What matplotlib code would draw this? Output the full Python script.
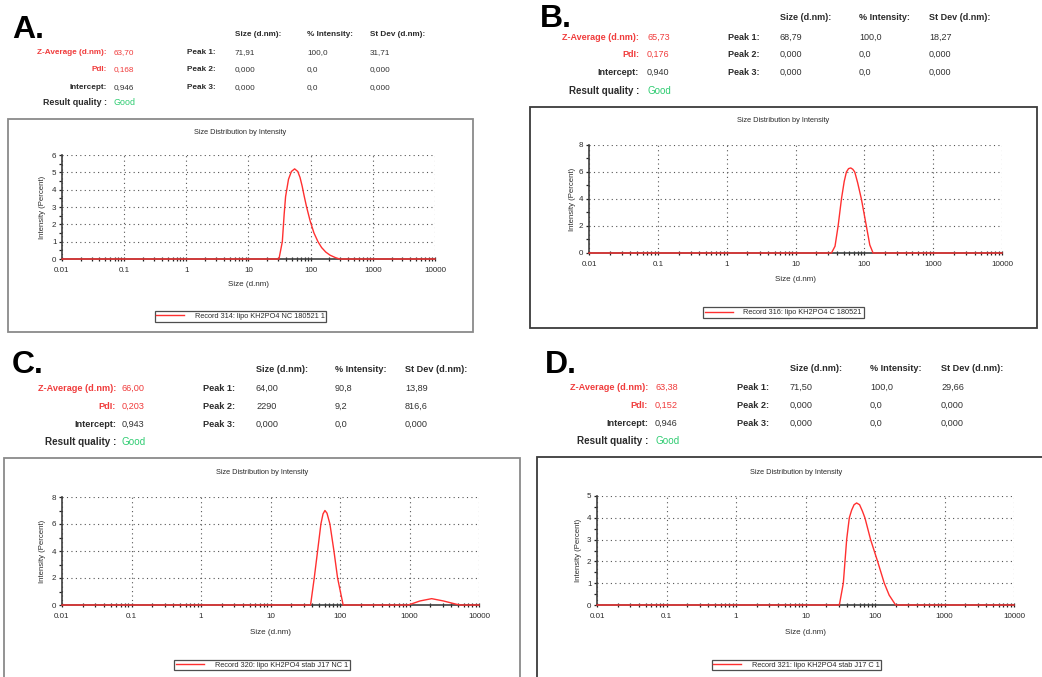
import matplotlib
matplotlib.use('Agg')
import matplotlib.pyplot as plt
from matplotlib.patches import Rectangle
from matplotlib.ticker import LogLocator, MultipleLocator, NullFormatter, FixedFormatter, FixedLocator

W, H = 1042, 677
plt.rcParams['font.family'] = ['Liberation Sans', 'DejaVu Sans']

# ---------------- data ----------------
panel_letters = ['A.', 'B.', 'C.', 'D.']
records = ['Record 314: lipo KH2PO4 NC 180521 1',
           'Record 316: lipo KH2PO4 C 180521',
           'Record 320: lipo KH2PO4 stab J17 NC 1',
           'Record 321: lipo KH2PO4 stab J17 C 1']

size_A = [0.01, 30.9, 35.0, 37.5, 39.5, 44.0, 49.0, 55.2, 62.0, 67.5, 73.0, 79.0, 86.0, 98.0, 113.0, 131.0, 150.0, 175.0, 205.0, 250.0, 292.0, 10000]
int_A = [0, 0, 1.0, 2.6, 3.6, 4.6, 5.05, 5.2, 5.05, 4.7, 4.2, 3.6, 3.0, 2.2, 1.5, 1.0, 0.66, 0.4, 0.22, 0.08, 0, 0]

size_B = [0.01, 33.3, 37.5, 41.6, 46.5, 51.0, 54.9, 59.0, 63.5, 68.0, 72.6, 80.0, 90.6, 107.0, 120.0, 134.0, 10000]
int_B = [0, 0, 0.5, 2.0, 4.0, 5.3, 6.0, 6.25, 6.3, 6.2, 6.0, 5.2, 4.0, 2.0, 0.6, 0, 0]

size_C = [0.01, 37.7, 42.6, 47.6, 53.1, 57.0, 60.7, 65.0, 71.6, 81.8, 92.3, 111.0, 962, 1416, 2084, 3070, 4780, 5340, 10000]
int_C = [0, 0, 2.0, 4.0, 6.0, 6.75, 7.0, 6.8, 6.0, 4.0, 2.0, 0, 0, 0.3, 0.47, 0.3, 0.05, 0, 0]

size_D = [0.01, 30.7, 35.0, 37.0, 39.1, 42.7, 46.1, 50.0, 54.4, 60.0, 66.0, 71.6, 86.4, 109.0, 136.0, 160.0, 198.0, 10000]
int_D = [0, 0, 1.0, 2.0, 3.0, 4.0, 4.35, 4.6, 4.68, 4.6, 4.3, 4.0, 3.0, 2.0, 1.0, 0.45, 0, 0]

sizes = [size_A, size_B, size_C, size_D]
intensities = [int_A, int_B, int_C, int_D]
y_max = [6, 8, 8, 5]
y_major = [1, 2, 2, 1]
x_ticks = [0.01, 0.1, 1, 10, 100, 1000, 10000]
x_tick_labels = ['0.01', '0.1', '1', '10', '100', '1000', '10000']

z_average = ['63,70', '65,73', '66,00', '63,38']
pdi = ['0,168', '0,176', '0,203', '0,152']
intercept = ['0,946', '0,940', '0,943', '0,946']
quality = ['Good', 'Good', 'Good', 'Good']
peak_size = [['71,91', '0,000', '0,000'], ['68,79', '0,000', '0,000'],
             ['64,00', '2290', '0,000'], ['71,50', '0,000', '0,000']]
peak_intensity = [['100,0', '0,0', '0,0'], ['100,0', '0,0', '0,0'],
                  ['90,8', '9,2', '0,0'], ['100,0', '0,0', '0,0']]
peak_stdev = [['31,71', '0,000', '0,000'], ['18,27', '0,000', '0,000'],
              ['13,89', '816,6', '0,000'], ['29,66', '0,000', '0,000']]

# ---------------- layout (pixels) ----------------
layout = [
    dict(letter=(12, 38), fs=5.9, head_y=33, rows=[51, 68, 86, 102], lab_r=107, val_x=114,
         peak_x=187, cols=[235, 307, 370], box=(8, 119, 473, 332), box_c='#8a8a8a',
         ax=(62, 155, 435, 259), title_y=132, ylab_x=43, xlab_y=285, leg_y=316.5),
    dict(letter=(540, 27), fs=6.5, head_y=17, rows=[37, 54, 72, 90], lab_r=639, val_x=647,
         peak_x=728, cols=[780, 859, 929], box=(530, 107, 1037, 328), box_c='#3a3a3a',
         ax=(589, 145, 1002, 253), title_y=121, ylab_x=572, xlab_y=280, leg_y=312.5),
    dict(letter=(12, 373), fs=6.6, head_y=369, rows=[388, 406, 424, 441], lab_r=116, val_x=122,
         peak_x=203, cols=[256, 335, 405], box=(4, 458, 520, 700), box_c='#8a8a8a',
         ax=(62, 497, 479, 605), title_y=472, ylab_x=43, xlab_y=632, leg_y=665),
    dict(letter=(545, 373), fs=6.6, head_y=368, rows=[387, 405, 423, 440], lab_r=648, val_x=655,
         peak_x=737, cols=[790, 870, 941], box=(537, 457, 1056, 700), box_c='#3a3a3a',
         ax=(597, 496, 1014, 605), title_y=472, ylab_x=578, xlab_y=632, leg_y=665),
]

RED = '#f03c3c'
GREEN = '#2ecc71'
DARK = '#2b2b2b'
VAL = '#333333'

fig = plt.figure(figsize=(W / 100, H / 100), dpi=100)


def fx(x):
    return x / W


def fy(y):
    return 1 - y / H


def txt(x, y, s, fontsize, **kw):
    # y is the vertical centre of capital letters; place on baseline
    base = y + 0.5 * fontsize
    fig.text(fx(x), fy(base), s, fontsize=fontsize, va='baseline', **kw)


for i, L in enumerate(layout):
    fs = L['fs']
    # panel letter
    fig.text(fx(L['letter'][0]), fy(L['letter'][1]), panel_letters[i], fontsize=23,
             fontweight='bold', color='black', va='baseline')
    # header
    for cx, h in zip(L['cols'], ['Size (d.nm):', '% Intensity:', 'St Dev (d.nm):']):
        txt(cx, L['head_y'], h, fs, fontweight='bold', color=DARK)
    r = L['rows']
    # left block
    txt(L['lab_r'], r[0], 'Z-Average (d.nm):', fs, fontweight='bold', color=RED, ha='right')
    txt(L['lab_r'], r[1], 'PdI:', fs, fontweight='bold', color=RED, ha='right')
    txt(L['lab_r'], r[2], 'Intercept:', fs, fontweight='bold', color=DARK, ha='right')
    txt(L['lab_r'], r[3], 'Result quality :', fs * 1.08, fontweight='bold', color=DARK, ha='right')
    txt(L['val_x'], r[0], z_average[i], fs, color=RED)
    txt(L['val_x'], r[1], pdi[i], fs, color=RED)
    txt(L['val_x'], r[2], intercept[i], fs, color=VAL)
    txt(L['val_x'], r[3], quality[i], fs * 1.08, color=GREEN)
    # peaks
    for k in range(3):
        txt(L['peak_x'], r[k], 'Peak %d:' % (k + 1), fs, fontweight='bold', color=DARK)
        txt(L['cols'][0], r[k], peak_size[i][k], fs, color=VAL)
        txt(L['cols'][1], r[k], peak_intensity[i][k], fs, color=VAL)
        txt(L['cols'][2], r[k], peak_stdev[i][k], fs, color=VAL)

    # frame box
    bx0, by0, bx1, by1 = L['box']
    fig.patches.append(Rectangle((fx(bx0), fy(by1)), (bx1 - bx0) / W, (by1 - by0) / H,
                                 transform=fig.transFigure, fill=False,
                                 edgecolor=L['box_c'], linewidth=1.3, zorder=0))
    box_cx = (bx0 + bx1) / 2
    fig.text(fx(box_cx), fy(L['title_y']), 'Size Distribution by Intensity', fontsize=5.3,
             color=DARK, ha='center', va='center')

    # axes
    l, t, rr, b = L['ax']
    ax = fig.add_axes([fx(l), fy(b), (rr - l) / W, (b - t) / H])
    ax.set_xscale('log')
    ax.set_xlim(0.01, 10000)
    ax.set_ylim(0, y_max[i])
    ax.plot(sizes[i], intensities[i], color='#ff3030', linewidth=1.0, clip_on=False, zorder=5,
            label=records[i])
    ax.xaxis.set_major_locator(FixedLocator(x_ticks))
    ax.xaxis.set_major_formatter(FixedFormatter(x_tick_labels))
    ax.xaxis.set_minor_locator(LogLocator(base=10, subs=range(2, 10), numticks=20))
    ax.xaxis.set_minor_formatter(NullFormatter())
    ax.yaxis.set_major_locator(MultipleLocator(y_major[i]))
    ax.yaxis.set_minor_locator(MultipleLocator(y_major[i] / 2))
    for s in ['top', 'right']:
        ax.spines[s].set_visible(False)
    for s in ['left', 'bottom']:
        ax.spines[s].set_color('#404040')
        ax.spines[s].set_linewidth(1.2)
    ax.grid(True, which='major', color='#555555', linestyle=(0, (1, 3)), linewidth=0.8)
    ax.tick_params(axis='x', which='both', direction='inout', length=3.5, width=0.9, color='#222222',
                   labelsize=5.8, labelcolor=DARK, pad=4)
    ax.tick_params(axis='y', which='both', direction='out', length=2.5, width=0.9, color='#222222',
                   labelsize=5.8, labelcolor=DARK, pad=1.5)
    ax.set_axisbelow(True)
    ax.set_facecolor('none')
    ax.set_xlabel('Size (d.nm)', fontsize=5.8, color=DARK, va='center')
    ax.set_ylabel('Intensity (Percent)', fontsize=5.6, color=DARK, va='center', ha='center')
    ax.xaxis.set_label_coords(0.5, (b - L['xlab_y']) / (b - t))
    ax.yaxis.set_label_coords((L['ylab_x'] - l) / (rr - l), 0.5)

    leg = ax.legend(loc='center', bbox_to_anchor=(fx(box_cx), fy(L['leg_y'])),
                    bbox_transform=fig.transFigure, fontsize=5.3, frameon=True, fancybox=False,
                    handlelength=3.8, handletextpad=1.4, borderpad=0.25, borderaxespad=0)
    leg.get_frame().set_edgecolor('#222222')
    leg.get_frame().set_linewidth(0.9)
    for t_ in leg.get_texts():
        t_.set_color(DARK)

fig.savefig('out.png', dpi=100)
